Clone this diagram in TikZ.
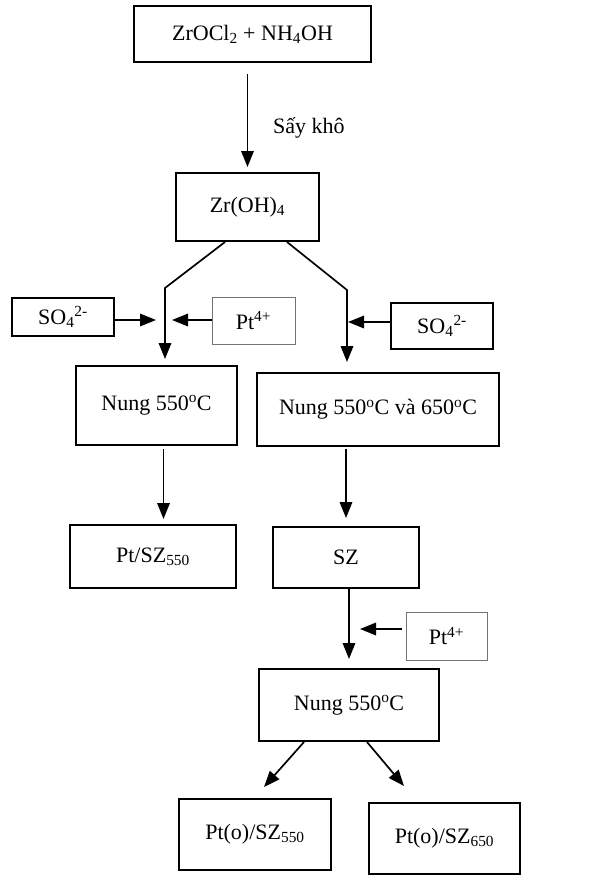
\documentclass[tikz,border=0pt]{standalone}
\usepackage{fontspec}
\setmainfont{Liberation Serif}
\usetikzlibrary{arrows.meta}
\begin{document}
\begin{tikzpicture}[x=1pt,y=-1pt,
  box/.style={draw, line width=2pt, inner sep=0pt, font=\fontsize{22}{26}\selectfont},
  thinbox/.style={draw=black!55, line width=0.8pt, inner sep=0pt, font=\fontsize{22}{26}\selectfont},
  lbl/.style={inner sep=0pt, font=\fontsize{22}{26}\selectfont},
  arr/.style={line width=1.7pt, -{Triangle[length=16pt,width=12.5pt]}}]
\useasboundingbox (0,0) rectangle (612,875);
\fill[white] (0,0) rectangle (612,875);

\node[box, minimum width=237pt, minimum height=56pt] (top) at (252.5,34) {ZrOCl\textsubscript{2} + NH\textsubscript{4}OH};
\node[box, minimum width=143pt, minimum height=68pt] (zr) at (247.5,207) {Zr(OH)\textsubscript{4}};
\node[box, minimum width=102pt, minimum height=38pt] (so4L) at (63,317) {SO\textsubscript{4}\textsuperscript{2-}};
\node[thinbox, minimum width=83pt, minimum height=47pt] (pt1) at (253.5,320.5) {Pt\textsuperscript{4+}};
\node[box, minimum width=102pt, minimum height=46pt] (so4R) at (442,326) {SO\textsubscript{4}\textsuperscript{2-}};
\node[box, minimum width=161pt, minimum height=79pt] (nungL) at (156.5,405.5) {Nung 550\textsuperscript{o}C};
\node[box, minimum width=242pt, minimum height=73pt] (nungR) at (378,409.5) {Nung 550\textsuperscript{o}C và 650\textsuperscript{o}C};
\node[box, minimum width=166pt, minimum height=63pt] (ptsz) at (153,556.5) {Pt/SZ\textsubscript{550}};
\node[box, minimum width=146pt, minimum height=61pt] (sz) at (346,557.5) {SZ};
\node[thinbox, minimum width=81pt, minimum height=48pt] (pt2) at (446.5,636) {Pt\textsuperscript{4+}};
\node[box, minimum width=180pt, minimum height=72pt] (nung3) at (349,705) {Nung 550\textsuperscript{o}C};
\node[box, minimum width=152pt, minimum height=71pt] (p550) at (255,834.5) {Pt(o)/SZ\textsubscript{550}};
\node[box, minimum width=151pt, minimum height=71pt] (p650) at (444.5,838.5) {Pt(o)/SZ\textsubscript{650}};

\node[lbl, anchor=west] (say) at (273,128) {Sấy khô};

% top -> Zr(OH)4
\draw[arr, shorten <=11pt, shorten >=5pt] (top.south -| zr.north) -- (zr.north);

% branches
\coordinate (bl) at (165,288);
\coordinate (br) at (347,290);
\coordinate (jl) at (165,320);
\coordinate (jr) at (347,322);
\draw[arr, shorten >=6pt] ([xshift=-22.5pt]zr.south) -- (bl) -- (bl |- nungL.north);
\draw[arr, shorten >=10pt] ([xshift=39.5pt]zr.south) -- (br) -- (br |- nungR.north);
\draw[arr, shorten >=9pt] (so4L.east |- jl) -- (jl);
\draw[arr, shorten >=7pt] (pt1.west |- jl) -- (jl);
\draw[arr, shorten >=1pt] (so4R.west |- jr) -- (jr);

% down arrows
\draw[arr, shorten <=3pt, shorten >=5pt] ([xshift=7pt]nungL.south) -- ([xshift=7pt]nungL.south |- ptsz.north);
\draw[arr, shorten <=2pt, shorten >=8pt] (sz.north |- nungR.south) -- (sz.north);
\coordinate (jb) at (349,629);
\draw[arr, shorten >=9pt] (jb |- sz.south) -- (jb |- nung3.north);
\draw[arr, shorten <=4pt, shorten >=11pt] (pt2.west |- jb) -- (jb);

% diagonal
\coordinate (dl) at (264,787);
\coordinate (dr) at (404,786);
\draw[arr] ([xshift=-45pt]nung3.south) -- (dl);
\draw[arr] ([xshift=18pt]nung3.south) -- (dr);
\end{tikzpicture}
\end{document}
